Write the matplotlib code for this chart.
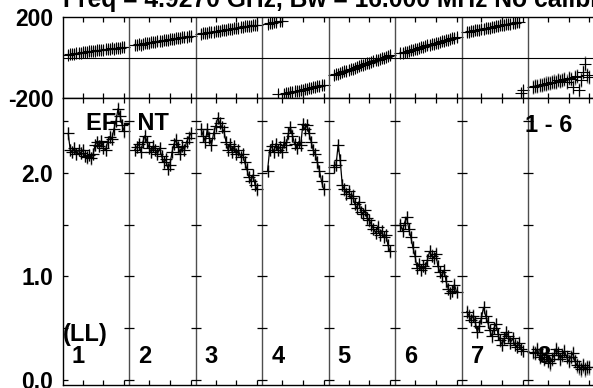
import matplotlib.pyplot as plt
import numpy as np

plt.rcParams['font.family'] = ['Liberation Sans', 'DejaVu Sans']
plt.rcParams['font.weight'] = 'bold'

# channels plotted in every IF (32 channels per IF, edges dropped)
nchan = 32
chans = list(range(3, 31))
if_labels = ['1', '2', '3', '4', '5', '6', '7', '8']

# amplitude per IF
amp_if1 = [2.38, 2.22, 2.20, 2.24, 2.18, 2.22, 2.19, 2.22, 2.16, 2.15, 2.17, 2.14, 2.18, 2.27,
           2.30, 2.26, 2.31, 2.24, 2.22, 2.30, 2.35, 2.33, 2.42, 2.50, 2.62, 2.55, 2.46, 2.40]
amp_if2 = [2.22, 2.25, 2.28, 2.20, 2.30, 2.36, 2.30, 2.24, 2.20, 2.26, 2.22, 2.18, 2.24, 2.16,
           2.10, 2.13, 2.04, 2.08, 2.20, 2.28, 2.32, 2.25, 2.18, 2.26, 2.22, 2.30, 2.34, 2.38]
amp_if3 = [2.42, 2.36, 2.30, 2.42, 2.34, 2.27, 2.38, 2.45, 2.53, 2.48, 2.44, 2.40, 2.30, 2.22,
           2.28, 2.20, 2.26, 2.18, 2.22, 2.15, 2.18, 2.10, 2.04, 1.96, 1.92, 1.98, 1.88, 1.84]
amp_if4 = [2.02, 2.22, 2.26, 2.20, 2.28, 2.22, 2.25, 2.20, 2.30, 2.27, 2.38, 2.44, 2.36, 2.28,
           2.24, 2.30, 2.27, 2.47, 2.42, 2.46, 2.38, 2.30, 2.22, 2.18, 2.10, 2.02, 1.92, 1.84]
amp_if5 = [2.06, 2.08, 2.27, 2.12, 1.88, 1.84, 1.80, 1.82, 1.76, 1.78, 1.70, 1.66, 1.72, 1.62,
           1.60, 1.64, 1.56, 1.54, 1.50, 1.46, 1.42, 1.48, 1.40, 1.44, 1.38, 1.40, 1.30, 1.24]
amp_if6 = [1.50, 1.44, 1.52, 1.57, 1.46, 1.38, 1.28, 1.20, 1.08, 1.12, 1.06, 1.10, 1.08, 1.16,
           1.24, 1.20, 1.18, 1.22, 1.10, 1.04, 1.00, 1.06, 0.95, 0.88, 0.84, 0.86, 0.92, 0.85]
amp_if7 = [0.66, 0.62, 0.58, 0.62, 0.56, 0.46, 0.52, 0.60, 0.70, 0.62, 0.56, 0.48, 0.42, 0.50,
           0.54, 0.44, 0.38, 0.34, 0.40, 0.46, 0.42, 0.36, 0.40, 0.34, 0.32, 0.36, 0.30, 0.28]
amp_if8 = [0.27, 0.26, 0.30, 0.22, 0.24, 0.20, 0.26, 0.18, 0.16, 0.20, 0.24, 0.30, 0.26, 0.20,
           0.24, 0.28, 0.22, 0.18, 0.22, 0.26, 0.18, 0.14, 0.12, 0.10, 0.14, 0.10, 0.12, 0.12]

# phase per IF (degrees)
ph_if1 = [14, 17, 19, 18, 22, 24, 23, 26, 28, 27, 30, 31, 33, 32, 35, 37, 36, 39, 41, 40,
          43, 45, 44, 47, 49, 48, 51, 53]
ph_if2 = [60, 62, 64, 63, 67, 69, 70, 72, 74, 75, 77, 79, 80, 82, 84, 85, 87, 89, 90, 92,
          94, 95, 97, 99, 100, 102, 104, 106]
ph_if3 = [117, 119, 121, 122, 124, 126, 127, 129, 131, 132, 134, 136, 137, 139, 141, 142,
          144, 145, 147, 149, 150, 152, 153, 155, 156, 157, 159, 160]
ph_if4 = [166, 169, 171, 174, 176, -179, 178, 179, -177, -175, -173, -171, -168, -166, -164,
          -162, -160, -157, -155, -153, -150, -148, -146, -143, -141, -139, -136, -134]
ph_if5 = [-86, -82, -79, -75, -72, -68, -64, -61, -57, -54, -50, -46, -43, -39, -36, -32,
          -28, -25, -21, -18, -14, -10, -7, -3, 0, 4, 8, 11]
ph_if6 = [20, 23, 26, 29, 32, 35, 38, 41, 44, 47, 50, 53, 56, 59, 62, 64, 67, 70, 73, 76,
          79, 82, 85, 88, 91, 94, 97, 100]
ph_if7 = [125, 127, 129, 131, 133, 135, 137, 139, 141, 143, 145, 147, 149, 151, 153, 155,
          157, 158, 160, 162, 164, 166, 168, 170, 172, 175, -172, -160]
ph_if8 = [-143, -140, -138, -136, -135, -130, -128, -126, -125, -120, -118, -121, -112, -116,
          -110, -106, -118, -100, -104, -145, -98, -92, -160, -108, -70, -30, -88, -95]

amps = [amp_if1, amp_if2, amp_if3, amp_if4, amp_if5, amp_if6, amp_if7, amp_if8]
phases = [ph_if1, ph_if2, ph_if3, ph_if4, ph_if5, ph_if6, ph_if7, ph_if8]
amp_err = [0.06, 0.06, 0.06, 0.06, 0.06, 0.06, 0.06, 0.07]
ph_err = [22, 22, 22, 22, 22, 22, 24, 35]

title = 'Freq = 4.9270 GHz, Bw = 16.000 MHz No calibration applied'

W, H = 593, 388
fig = plt.figure(figsize=(W / 100, H / 100), dpi=100)
ax_ph = fig.add_axes([63 / W, 1 - 98.3 / H, 531.6 / W, 81.6 / H])
ax_amp = fig.add_axes([63 / W, 1 - 385 / H, 531.6 / W, 286.7 / H])

nif = len(amps)
bounds = [nchan * i + 0.5 for i in range(1, nif)]
xt = [nchan * i + c for i in range(nif) for c in (10, 20, 30)]

for i in range(nif):
    x = np.array(chans) + nchan * i
    ax_amp.errorbar(x, amps[i], yerr=amp_err[i], fmt='none', ecolor='0.5', elinewidth=1.0)
    ax_amp.plot(x, amps[i], color='black', lw=0.9, marker='+', ms=8.5, mew=0.9)
    ax_ph.errorbar(x, phases[i], yerr=ph_err[i], fmt='none', ecolor='0.45', elinewidth=1.0)
    ax_ph.plot(x, phases[i], ls='none', color='black', marker='+', ms=8, mew=0.8)

for ax in (ax_ph, ax_amp):
    ax.set_xlim(0.5, nchan * nif + 0.5)
    for b in bounds:
        ax.axvline(b, color='0.3', lw=1.0)
    ax.set_xticks(xt)
    ax.tick_params(axis='x', direction='in', top=True, bottom=True, length=3.6, width=0.9,
                   labelbottom=False)
    for s in ax.spines.values():
        s.set_linewidth(1.0)

ax_ph.set_ylim(-200, 200)
ax_ph.axhline(0, color='black', lw=0.8)
ax_ph.set_yticks([-200, 200])
ax_ph.set_yticklabels(['-200', '200'])
ax_ph.tick_params(axis='y', direction='in', length=0, pad=7, labelsize=16.5)

amp_ticks = [0.0, 0.5, 1.0, 1.5, 2.0, 2.5]
ax_amp.set_ylim(-0.05, 2.72)
ax_amp.set_yticks(amp_ticks)
ax_amp.set_yticklabels(['0.0', '', '1.0', '', '2.0', ''])
ax_amp.tick_params(axis='y', direction='in', length=3.6, width=0.9, pad=7, labelsize=16.5)
# tick crosses along the IF separators
for b in bounds:
    ax_amp.plot([b] * len(amp_ticks), amp_ticks, ls='none', marker='_', ms=7.5,
                mew=0.9, color='black')

fig.text(63 / W, 1 - 7 / H, title, fontsize=17.7, fontweight='bold', ha='left', va='baseline')
ax_amp.text(0.043, 0.889, 'EF - NT', transform=ax_amp.transAxes, fontsize=17, fontweight='bold')
ax_amp.text(0.869, 0.883, '1 - 6', transform=ax_amp.transAxes, fontsize=17, fontweight='bold')
ax_amp.text(0.0, 0.153, '(LL)', transform=ax_amp.transAxes, fontsize=17, fontweight='bold')
for i, lab in enumerate(if_labels):
    ax_amp.text(nchan * i + 4.8, 0.0767, lab, transform=ax_amp.get_xaxis_transform(),
                fontsize=17, fontweight='bold')

fig.savefig('out.png', dpi=100)
